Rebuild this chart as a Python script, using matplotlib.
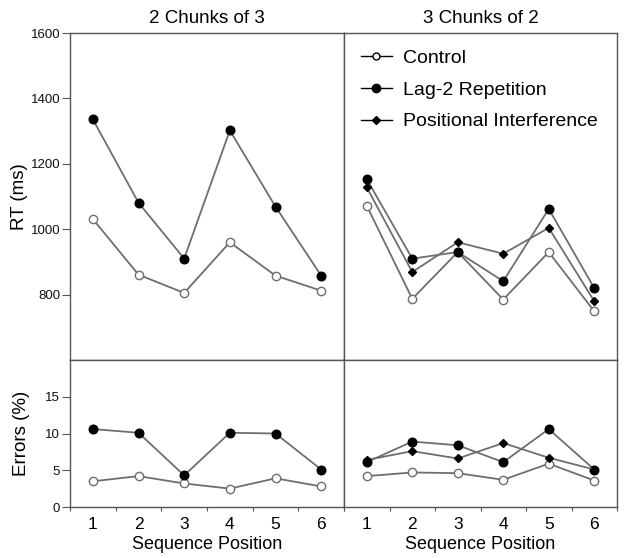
import numpy as np
import matplotlib
matplotlib.use('Agg')
import matplotlib.pyplot as plt

plt.rcParams['font.family'] = ['Liberation Sans', 'DejaVu Sans']

positions = [1, 2, 3, 4, 5, 6]
panel_titles = ['2 Chunks of 3', '3 Chunks of 2']

# RT (ms)
rt_control_23 = [1031, 861, 805, 960, 858, 812]
rt_lag2_23 = [1336, 1081, 910, 1302, 1069, 858]
rt_control_32 = [1072, 787, 930, 785, 930, 749]
rt_lag2_32 = [1153, 910, 930, 841, 1062, 820]
rt_posint_32 = [1128, 869, 960, 925, 1004, 780]

# Errors (%)
err_control_23 = [3.5, 4.2, 3.2, 2.5, 3.9, 2.8]
err_lag2_23 = [10.6, 10.1, 4.3, 10.1, 10.0, 5.1]
err_control_32 = [4.2, 4.7, 4.6, 3.7, 5.9, 3.6]
err_lag2_32 = [6.1, 8.9, 8.4, 6.1, 10.6, 5.1]
err_posint_32 = [6.4, 7.6, 6.6, 8.7, 6.7, 5.1]

line_col = '#6e6e6e'
spine_col = '#555555'

fig = plt.figure(figsize=(6.24, 5.58), dpi=100)
x0, xm, x1 = 70 / 624, 344 / 624, 617 / 624
yt, ymid, yb = 1 - 33 / 558, 1 - 360 / 558, 1 - 507 / 558

ax_tl = fig.add_axes([x0, ymid, xm - x0, yt - ymid])
ax_tr = fig.add_axes([xm, ymid, x1 - xm, yt - ymid])
ax_bl = fig.add_axes([x0, yb, xm - x0, ymid - yb])
ax_br = fig.add_axes([xm, yb, x1 - xm, ymid - yb])


def draw(ax, y, kind):
    if kind == 'control':
        ax.plot(positions, y, color=line_col, lw=1.3, marker='o', ms=6,
                mfc='white', mec=line_col, mew=1.0)
    elif kind == 'lag2':
        ax.plot(positions, y, color=line_col, lw=1.3, marker='o', ms=6.2,
                mfc='black', mec='black')
    else:
        ax.plot(positions, y, color=line_col, lw=1.3, marker='D', ms=4.5,
                mfc='black', mec='black')


draw(ax_tl, rt_control_23, 'control')
draw(ax_tl, rt_lag2_23, 'lag2')
draw(ax_tr, rt_control_32, 'control')
draw(ax_tr, rt_lag2_32, 'lag2')
draw(ax_tr, rt_posint_32, 'pos')

draw(ax_bl, err_control_23, 'control')
draw(ax_bl, err_lag2_23, 'lag2')
draw(ax_br, err_control_32, 'control')
draw(ax_br, err_lag2_32, 'lag2')
draw(ax_br, err_posint_32, 'pos')

for ax in [ax_tl, ax_tr, ax_bl, ax_br]:
    ax.set_xlim(0.5, 6.5)
    for s in ax.spines.values():
        s.set_color(spine_col)
        s.set_linewidth(1.0)
    ax.tick_params(colors=spine_col, labelcolor='#111111')

for ax in [ax_tl, ax_tr]:
    ax.set_ylim(600, 1600)
    ax.set_xticks([])
for ax in [ax_bl, ax_br]:
    ax.set_ylim(0, 20)
    ax.set_xticks(np.arange(0.5, 7, 1.0))
    ax.set_xticklabels([])
    ax.set_xticks(positions, minor=True)
    ax.set_xticklabels([str(p) for p in positions], minor=True, fontsize=12.5)
    ax.tick_params(axis='x', which='major', length=3, direction='out')
    ax.tick_params(axis='x', which='minor', length=0, pad=7)
    ax.set_xlabel('Sequence Position', fontsize=13, labelpad=3)

ax_tl.set_yticks([800, 1000, 1200, 1400, 1600])
ax_tl.tick_params(axis='y', labelsize=9.5, length=5.5, pad=1.5)
ax_tl.set_ylabel('RT (ms)', fontsize=13.5, labelpad=2)
ax_bl.set_yticks([0, 5, 10, 15])
ax_bl.tick_params(axis='y', labelsize=9.5, length=5.5, pad=1.5)
ax_bl.set_ylabel('Errors (%)', fontsize=13.5, labelpad=11)
ax_tr.set_yticks([])
ax_br.set_yticks([])

ax_tl.set_title(panel_titles[0], fontsize=13.5, pad=7)
ax_tr.set_title(panel_titles[1], fontsize=13.5, pad=7)

# legend handles
ax_tr.plot([], [], color='black', lw=1.0, marker='o', ms=5, mfc='white',
           mec='black', label='Control')
ax_tr.plot([], [], color='black', lw=1.0, marker='o', ms=6, mfc='black',
           mec='black', label='Lag-2 Repetition')
ax_tr.plot([], [], color='black', lw=1.0, marker='D', ms=4.5, mfc='black',
           mec='black', label='Positional Interference')
ax_tr.legend(loc='upper left', frameon=False, fontsize=14,
             handlelength=1.6, handletextpad=0.6, labelspacing=0.72,
             borderaxespad=0.45, bbox_to_anchor=(0.0, 1.0))

fig.savefig('out.png', dpi=100)
